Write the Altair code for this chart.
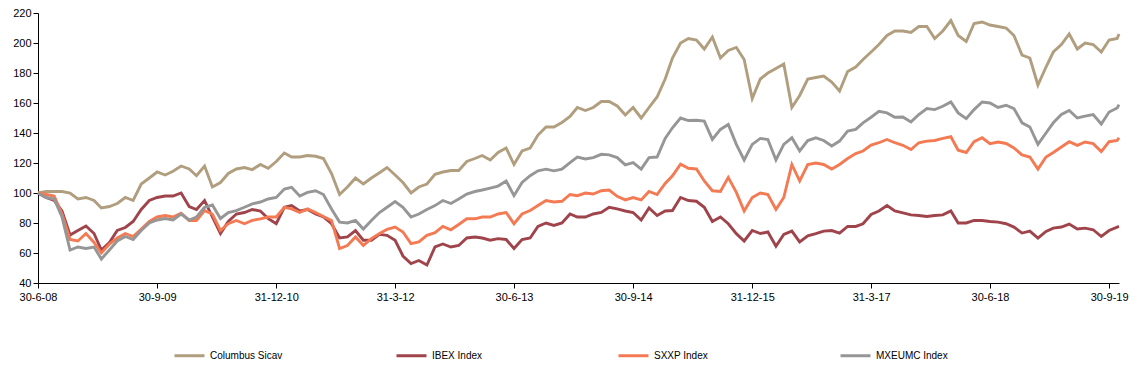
import calendar
import altair as alt
import pandas as pd

series_names = ["Columbus Sicav", "IBEX Index", "SXXP Index", "MXEUMC Index"]
series_colors = ["#B09E7E", "#A0444C", "#F47A54", "#969696"]

# month-end observation dates Jun-2008 .. Oct-2019, plus last observation
dates = []
yy, mm = 2008, 6
while (yy, mm) <= (2019, 10):
    dd = calendar.monthrange(yy, mm)[1]
    dates.append(f"{yy:04d}-{mm:02d}-{dd:02d}")
    mm += 1
    if mm > 12:
        mm, yy = 1, yy + 1
dates.append("2019-11-07")

columbus = [
    100, 101, 101, 101, 100, 96, 97, 95, 90, 91, 93, 97, 95, 106, 110, 114, 112,
    114.5, 118, 116, 111.5, 118, 104, 107, 113, 116, 117, 115.6, 119, 116.5, 121, 126.7, 124, 124, 125,
    124.5, 123, 113, 99, 104, 110, 106, 110, 113.5, 117, 112, 107, 100, 104, 106, 112.5, 114,
    115, 115, 121, 123, 125, 122, 127, 130, 119, 128, 130, 138.6, 144, 144, 147, 151, 157,
    155, 157, 161, 161, 158, 152, 157, 150, 157, 164, 176, 190, 200, 203, 202, 196, 204,
    190, 195, 197, 189, 163, 176, 180, 183, 186, 157, 165, 176, 177, 178, 174, 168, 181,
    184, 189, 194, 199, 205, 208, 208, 207, 211, 211, 203, 208, 215, 205, 201, 213, 214,
    212, 211, 210, 205, 192, 190, 172, 184, 194, 199, 206, 196, 200, 199, 194, 202, 203, 206,
]
ibex = [
    100, 97, 95, 88, 72, 75, 78, 73, 62, 67, 75, 77, 81, 89, 95, 97, 98,
    98, 100, 91, 89, 95, 84, 73, 81, 86, 87, 89, 88, 83, 79.5, 90.5, 91.6, 88, 89,
    86, 84, 79.5, 70, 70.7, 75, 68.5, 68.5, 72.4, 71.8, 68.5, 58, 53, 55, 52, 64, 66,
    64, 65, 70, 70.7, 70, 68.5, 69.6, 69, 63, 69, 70, 77.7, 80, 78.4, 80, 86, 84,
    84, 86, 87, 90.5, 89.4, 88, 87, 82, 90, 85, 88, 88.3, 97, 95, 94.5, 90.5, 81,
    84, 79.5, 72.9, 68, 75, 73, 74, 64.5, 72.4, 74.6, 67.4, 71.5, 72.9, 74.6, 75, 73.3, 77.7,
    77.7, 79.5, 85.7, 88, 91.6, 88, 86.8, 85.4, 85, 84.3, 85, 85.4, 88, 80, 80, 81.7, 81.7,
    81, 80.6, 79.5, 77.3, 73.3, 74.6, 70, 74.4, 76.6, 77.3, 79.3, 76, 76.6, 75.5, 71, 75, 77.3, 77.7,
]
sxxp = [
    100, 99, 98, 86, 69, 68, 73, 67, 60, 66, 70, 73, 71, 76, 81, 84, 85,
    84, 86.5, 81.7, 81.7, 88.3, 86, 75, 79.5, 81.7, 79.5, 81.7, 82.8, 84, 84, 90.5, 89.4, 87, 89.4,
    87, 84.3, 81.7, 63, 65, 70.7, 65, 69.6, 73, 75.7, 77.3, 74, 66.3, 67.4, 71.8, 73.5, 77.7,
    75.5, 79, 82.8, 82.8, 84, 84, 86, 87, 79.5, 86, 88.3, 91.6, 95, 94, 94.5, 99, 98.2,
    100, 99.3, 101.5, 102, 97.8, 95.4, 97, 95.4, 101, 99, 106.4, 111.5, 119.2, 116.5, 116, 108, 101.5,
    101, 110.4, 100.4, 88, 97, 100, 99, 89, 97, 119, 108, 119, 120, 119, 116, 119, 123,
    126.3, 128, 132, 133.5, 135.7, 133.5, 131.8, 129, 133.5, 134.6, 135, 136.4, 137.5, 128.5, 127, 134.2, 136.8,
    132.9, 134, 133, 130, 125.4, 124, 115.9, 124, 127, 130.7, 134.2, 131.8, 134, 132.9, 127.6, 134.2, 135, 136.8,
]
mxeumc = [
    100, 97, 96, 84, 62, 64, 63, 64, 56, 62, 68, 71, 69, 75, 80, 82, 83,
    82, 86, 82, 84, 90.5, 92, 83, 87, 88.3, 90.5, 92.7, 94, 96, 97, 102.6, 103.8, 98, 100.4,
    101.5, 99, 89.4, 80.6, 80, 81.7, 76, 81.7, 87, 90.5, 94.3, 90.5, 84, 86, 89, 91.6, 95,
    93, 96, 99.3, 101, 102, 103.3, 104.6, 108, 98.2, 107, 111.5, 114.8, 115.9, 114.8, 115.9, 120.3, 124,
    122.7, 123.6, 125.8, 125.4, 123.6, 118.8, 120.3, 115.9, 123.6, 124, 136.4, 143.5, 150, 148.3, 148.5, 147.9, 135.7,
    142.4, 145.7, 132.4, 122, 132.4, 136.4, 135.7, 122, 132.4, 136.8, 128, 135, 136.8, 135, 131.3, 134.6, 141.3,
    142.4, 146.8, 150.5, 154.5, 153.4, 150.5, 150.7, 147.4, 152.3, 156.3, 155.6, 157.8, 160.7, 153.4, 149.6, 155.6, 160.7,
    160, 157, 158.5, 156.3, 146.8, 144, 132.4, 140, 146.8, 152.3, 155, 150, 151.2, 152.3, 146, 154, 156.7, 158.9,
]

y_ticks = [40, 60, 80, 100, 120, 140, 160, 180, 200, 220]
x_ticks = [(2008, 6, 30), (2009, 9, 30), (2010, 12, 31), (2012, 3, 31), (2013, 6, 30),
           (2014, 9, 30), (2015, 12, 31), (2017, 3, 31), (2018, 6, 30), (2019, 9, 30)]

frames = []
for name, vals in zip(series_names, [columbus, ibex, sxxp, mxeumc]):
    frames.append(pd.DataFrame({"date": dates, "value": vals, "series": name}))
df = pd.concat(frames, ignore_index=True)

FONT = "Liberation Sans"

x_enc = alt.X(
    "date:T",
    scale=alt.Scale(
        type="utc",
        domain=[alt.DateTime(year=2008, month=6, date=30, utc=True),
                alt.DateTime(year=2019, month=11, date=7, utc=True)],
    ),
    axis=alt.Axis(
        values=[alt.DateTime(year=a, month=b, date=c, utc=True) for a, b, c in x_ticks],
        labelExpr="utcFormat(datum.value, '%-d-%-m-%y')", title=None, grid=False,
        domainColor="black", tickColor="black", tickSize=5, labelColor="black",
        labelFont=FONT, labelFontSize=11, labelPadding=3, labelFlush=False,
        labelOverlap=False,
    ),
)
y_enc = alt.Y(
    "value:Q",
    scale=alt.Scale(domain=[40, 220], nice=False, zero=False),
    axis=alt.Axis(
        values=y_ticks, title=None, grid=False, domainColor="black", tickColor="black",
        tickSize=5, labelColor="black", labelFont=FONT, labelFontSize=11, labelPadding=2,
    ),
)

chart = alt.Chart(df).mark_line(strokeWidth=2.9).encode(
    x=x_enc,
    y=y_enc,
    color=alt.Color(
        "series:N",
        scale=alt.Scale(domain=series_names, range=series_colors),
        sort=series_names,
        legend=alt.Legend(
            title=None, orient="none", legendX=135, legendY=326, direction="horizontal",
            columns=4, symbolType="stroke", symbolStrokeWidth=3, symbolSize=900,
            labelFont=FONT, labelFontSize=10, labelColor="black", columnPadding=107,
            gridAlign="all", labelOffset=4,
        ),
    ),
).properties(
    width=1081, height=270,
    autosize=alt.AutoSizeParams(type="none"),
    padding={"left": 30, "top": 5, "right": 11, "bottom": 78},
).configure_view(stroke=None)

chart.save("out.html", embed_options={"renderer": "svg", "actions": False})
